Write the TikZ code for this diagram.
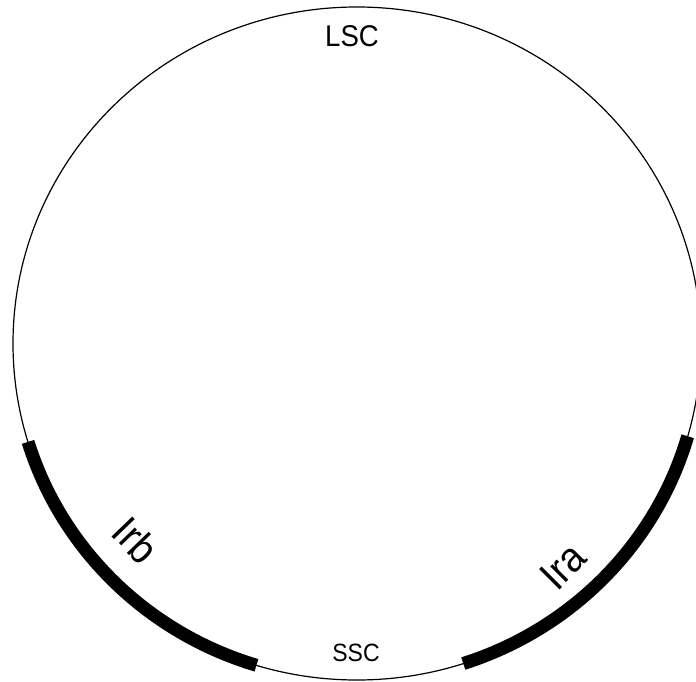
\documentclass[tikz,border=0pt]{standalone}
\usepackage{fontspec}
\setmainfont{Liberation Sans}
\begin{document}
\begin{tikzpicture}[x=1pt,y=1pt,
  thin ring/.style={line width=1.2pt},
  thick ring/.style={line width=13pt},
  lbl/.style={inner sep=0pt, anchor=center}]
\useasboundingbox (0,0) rectangle (696,681);
\coordinate (c) at (357,337.5);
\draw[thin ring] (c) ellipse [x radius=344, y radius=336.5];
\draw[thick ring] ([shift={(c)}]197:344 and 336.5) arc [start angle=197, end angle=253, x radius=344, y radius=336.5];
\draw[thick ring] ([shift={(c)}]288:344 and 336.5) arc [start angle=288, end angle=344, x radius=344, y radius=336.5];
\node[lbl, font=\fontsize{30}{32}\selectfont, xscale=0.92] (lsc) at (352,645) {LSC};
\node[lbl, font=\fontsize{25}{27}\selectfont, xscale=0.92] (ssc) at (356,28.5) {SSC};
\node[lbl, font=\fontsize{42}{44}\selectfont, rotate=-46, xscale=0.92] (irb) at (136,141) {Irb};
\node[lbl, font=\fontsize{42}{44}\selectfont, rotate=45, xscale=0.92] (ira) at (563,115) {Ira};
\end{tikzpicture}
\end{document}
